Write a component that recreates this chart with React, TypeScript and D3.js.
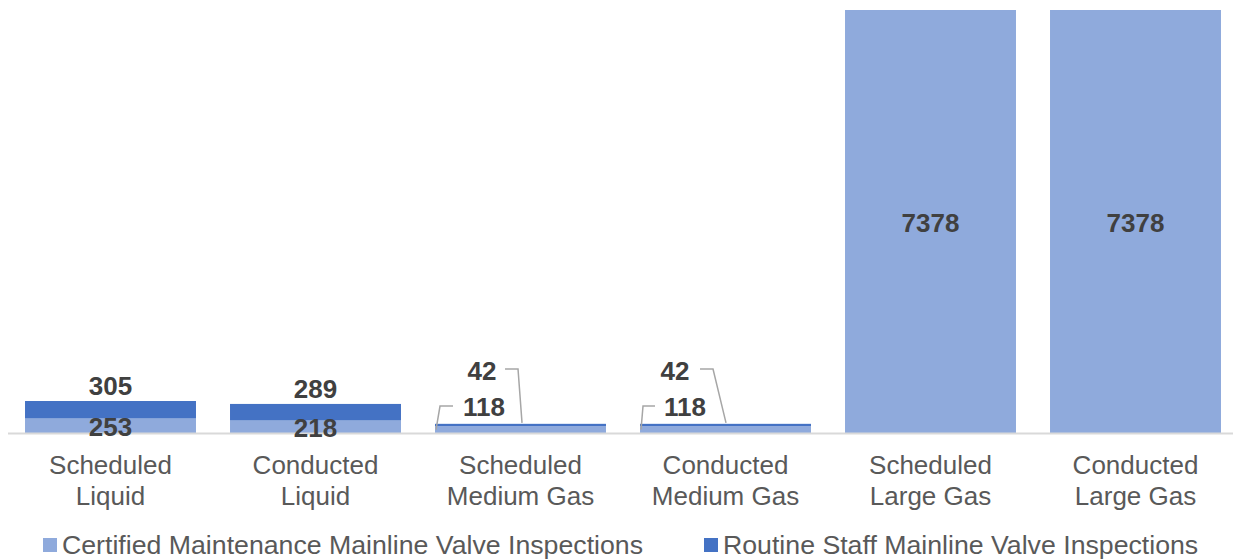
import React, { useEffect, useRef } from 'react';
import * as d3 from 'd3';

const categories = [
  'Scheduled\nLiquid',
  'Conducted\nLiquid',
  'Scheduled\nMedium Gas',
  'Conducted\nMedium Gas',
  'Scheduled\nLarge Gas',
  'Conducted\nLarge Gas',
];
const certifiedValues = [253, 218, 118, 118, 7378, 7378];
const routineValues = [305, 289, 42, 42, 0, 0];
const seriesNames = [
  'Certified Maintenance Mainline Valve Inspections',
  'Routine Staff Mainline Valve Inspections',
];

const WIDTH = 1233;
const HEIGHT = 559;
const LIGHT = '#8faadc';
const DARK = '#4472c4';
const FONT = '"Liberation Sans", Arial, sans-serif';

const App: React.FC = () => {
  const svgRef = useRef<SVGSVGElement>(null);

  useEffect(() => {
    if (!svgRef.current) return;
    const svg = d3.select(svgRef.current);
    svg.selectAll('*').remove();

    const x = d3.scaleBand<number>()
      .domain(d3.range(categories.length))
      .range([8, 1238])
      .paddingInner(0.166)
      .paddingOuter(0.083);

    const y = d3.scaleLinear()
      .domain([0, d3.max(certifiedValues.map((v, i) => v + routineValues[i])) as number])
      .range([433, 10]);

    const rows = categories.map((c, i) => ({ i, c, a: certifiedValues[i], b: routineValues[i] }));

    // bars
    const g = svg.append('g');
    g.selectAll('rect.light')
      .data(rows)
      .join('rect')
      .attr('class', 'light')
      .attr('x', d => x(d.i)!)
      .attr('width', x.bandwidth())
      .attr('y', d => y(d.a))
      .attr('height', d => y(0) - y(d.a))
      .attr('fill', LIGHT);

    g.selectAll('rect.dark')
      .data(rows.filter(d => d.b > 0))
      .join('rect')
      .attr('class', 'dark')
      .attr('x', d => x(d.i)!)
      .attr('width', x.bandwidth())
      .attr('y', d => y(d.a + d.b))
      .attr('height', d => y(d.a) - y(d.a + d.b))
      .attr('fill', DARK);

    // axis line
    svg.append('line')
      .attr('x1', 8).attr('x2', WIDTH)
      .attr('y1', y(0) + 0.5).attr('y2', y(0) + 0.5)
      .attr('stroke', '#d9d9d9').attr('stroke-width', 2);

    // data labels
    const lbl = svg.append('g')
      .attr('font-family', FONT)
      .attr('font-size', 26)
      .attr('font-weight', 'bold')
      .attr('fill', '#404040')
      .attr('text-anchor', 'middle');

    const addLabel = (tx: number, ty: number, v: number) =>
      lbl.append('text').attr('x', tx).attr('y', ty).attr('dy', '0.35em').text(v);

    const leader = (pts: [number, number][]) =>
      svg.append('path')
        .attr('d', d3.line()(pts))
        .attr('fill', 'none')
        .attr('stroke', '#a6a6a6')
        .attr('stroke-width', 1.5);

    // leader label offsets for the thin medium gas bars
    const leaderLayout: Record<number, { a: number[]; b: number[] }> = {
      2: { a: [49, 5, 18], b: [47, 87, 83, 70] },
      3: { a: [45, 3, 15], b: [35, 86, 73, 60] },
    };

    rows.forEach(d => {
      const bx = x(d.i)!;
      const cx = bx + x.bandwidth() / 2;
      const segA = y(0) - y(d.a);
      if (segA > 40) {
        addLabel(cx, (y(0) + y(d.a)) / 2 + 1, d.a);
      } else if (leaderLayout[d.i]) {
        const L = leaderLayout[d.i];
        const ay = y(0) - 26;
        const by = y(0) - 62;
        addLabel(bx + L.a[0], ay, d.a);
        leader([[bx + 1, y(d.a / 2)], [bx + L.a[1], ay - 1], [bx + L.a[2], ay - 1]]);
        addLabel(bx + L.b[0], by, d.b);
        leader([[bx + L.b[1], y(d.a + d.b) - 1], [bx + L.b[2], by - 2], [bx + L.b[3], by - 2]]);
      } else {
        addLabel(cx, (y(0) + y(d.a)) / 2 + 1, d.a);
        if (d.b > 0) addLabel(cx, y(d.a + d.b) - 15, d.b);
      }
    });

    // category labels
    const cat = svg.append('g')
      .attr('font-family', FONT)
      .attr('font-size', 26)
      .attr('fill', '#595959')
      .attr('text-anchor', 'middle');
    rows.forEach(d => {
      const t = cat.append('text')
        .attr('x', x(d.i)! + x.bandwidth() / 2)
        .attr('y', 465)
        .attr('dy', '0.35em');
      d.c.split('\n').forEach((line, k) => {
        t.append('tspan')
          .attr('x', x(d.i)! + x.bandwidth() / 2)
          .attr('dy', k === 0 ? '0.35em' : 31)
          .text(line);
      });
    });

    // legend
    const legendX = [43, 704];
    const legendColors = [LIGHT, DARK];
    const leg = svg.append('g').attr('font-family', FONT).attr('font-size', 26.7).attr('fill', '#595959');
    seriesNames.forEach((name, k) => {
      leg.append('rect')
        .attr('x', legendX[k]).attr('y', 538)
        .attr('width', 14).attr('height', 14)
        .attr('fill', legendColors[k]);
      leg.append('text')
        .attr('x', legendX[k] + 19).attr('y', 545)
        .attr('dy', '0.35em')
        .text(name);
    });
  }, []);

  return (
    <svg
      ref={svgRef}
      width={WIDTH}
      height={HEIGHT}
      style={{ position: 'absolute', left: 0, top: 0, background: '#fff' }}
    />
  );
};

export default App;
